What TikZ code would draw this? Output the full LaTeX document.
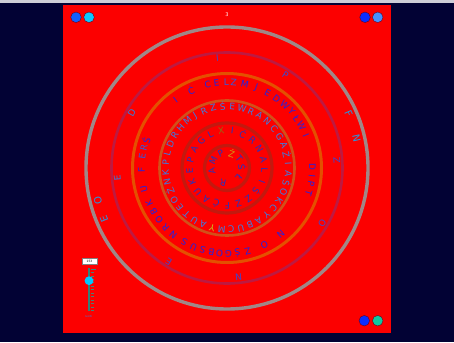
\documentclass[tikz,border=0pt]{standalone}
\usepackage{fontspec}
\setmainfont{DejaVu Sans}
\definecolor{bgnavy}{RGB}{2,2,52}
\definecolor{topgray}{RGB}{205,205,215}
\definecolor{panelred}{RGB}{252,0,0}
\definecolor{ringgray}{RGB}{160,135,135}
\definecolor{ringcrim}{RGB}{190,25,65}
\definecolor{ringor}{RGB}{228,80,0}
\definecolor{ringor2}{RGB}{210,80,25}
\definecolor{ringdk}{RGB}{195,25,15}
\definecolor{cA}{RGB}{40,150,225}
\definecolor{cBa}{RGB}{55,75,210}
\definecolor{cBb}{RGB}{40,130,230}
\definecolor{cC}{RGB}{35,35,225}
\definecolor{cCb}{RGB}{50,90,225}
\definecolor{cD}{RGB}{60,125,225}
\definecolor{cY}{RGB}{200,195,35}
\definecolor{cE}{RGB}{40,50,190}
\definecolor{cX}{RGB}{150,105,20}
\definecolor{cZ}{RGB}{210,150,20}
\definecolor{dotA}{RGB}{20,95,255}
\definecolor{dotB}{RGB}{10,200,255}
\definecolor{dotC}{RGB}{10,45,255}
\definecolor{dotD}{RGB}{70,145,255}
\definecolor{dotE}{RGB}{15,200,160}
\definecolor{trackc}{RGB}{50,130,120}
\definecolor{knobc}{RGB}{0,200,255}
\definecolor{gainc}{RGB}{80,110,200}
\begin{document}
\begin{tikzpicture}[x=1pt,y=1pt,
  ltr/.style={inner sep=0pt, font=\fontsize{9}{9}\selectfont},
  bigltr/.style={inner sep=0pt, font=\fontsize{10}{10}\selectfont},
  dot/.style={circle, inner sep=0pt, minimum size=10.6pt, draw=bgnavy!60!red, line width=0.4pt},
  ring/.style={line width=3pt}]
\useasboundingbox (0,0) rectangle (454,342);
\fill[bgnavy] (0,0) rectangle (454,342);
\fill[topgray] (0,339.4) rectangle (454,342);
\fill[panelred] (63,9) rectangle (391,337);
% title
\node[text=white, font=\fontsize{5}{5}\selectfont, inner sep=0pt] (title) at (227,327) {3};
% corner dots
\node[dot, fill=dotA] (tl1) at (76,324.7) {};
\node[dot, fill=dotB] (tl2) at (89,324.7) {};
\node[dot, fill=dotC] (tr1) at (365,324.7) {};
\node[dot, fill=dotD] (tr2) at (377.7,324.7) {};
\node[dot, fill=dotC] (br1) at (364.3,21.3) {};
\node[dot, fill=dotE] (br2) at (377.7,21.3) {};
% slider
\node[draw=gray, fill=white, line width=0.4pt, minimum width=15.5pt, minimum height=5.6pt, inner sep=0pt, font=\fontsize{3}{3}\selectfont] (valbox) at (89.5,80.9) {153};
\coordinate (trtop) at (89,74);
\coordinate (trbot) at (89,30.5);
\draw[trackc, line width=1.6pt] (trtop) -- (trbot);
\foreach \k in {0,...,12} {
  \pgfmathsetmacro\yy{73-3.45*\k}
  \ifnum\k=0 \draw[trackc!80!gray, line width=0.6pt] (91.2,\yy) -- (95.5,\yy);
  \else \draw[trackc!80!gray, line width=0.6pt] (91.2,\yy) -- (94.3,\yy); \fi
}
\node[circle, fill=knobc, inner sep=0pt, minimum size=8.8pt] (knob) at (89,61.3) {};
\node[text=gainc, font=\fontsize{2.6}{2.6}\selectfont, inner sep=0pt] (gain) at (88.5,25.3) {GAIN};
\begin{scope}[shift={(227,174)}]
  \draw[ringgray, ring, line width=3.4pt] (0,0) circle (141);
  \draw[ringcrim, ring, line width=2.6pt] (0,0) circle (115.5);
  \draw[ringor, ring] (0,0) circle (94.5);
  \draw[ringor2, ring, line width=2.6pt] (0,0) circle (67.5);
  \draw[ringdk, ring, line width=3.2pt] (0,0) circle (45);
  \draw[ringdk, ring, line width=3.2pt] (0,0) circle (22.5);
  % ring A
  \foreach \a/\l [count=\i] in {24/F,13/N,194/O,202.5/E}
    \node[bigltr, text=cA, rotate=\a-90] (ra-\i) at (\a:133) {\l};
  % ring B
  \foreach \a/\l/\c [count=\i] in {95/I/cBa,58/P/cBa,4/Z/cBa,-30/O/cBa,-84/N/cBa,-122/E/cBa,185/E/cBb,150/D/cBb}
    \node[ltr, text=\c, rotate=\a-90] (rb-\i) at (\a:110) {\l};
  % ring C
  \foreach \a/\l/\c [count=\i] in {127/I/cC,115/Ć/cC,103/C/cC,97/E/cC,90.5/L/cCb,85.5/Z/cCb,78/M/cC,70/J/cC,61.5/E/cC,54.5/D/cC,47.5/W/cC,41/Y/cC,35.5/Ł/cC,29.5/W/cC,22.5/I/cC,0.5/D/cC,-5.5/I/cC,-10.5/P/cC,-17/T/cC,-51/N/cC,-64/O/cC,-76/Z/cC,-83/Ś/cC,-89/G/cC,-95/O/cC,-100.5/B/cC,-106.5/S/cC,-113/U/cC,-120/S/cC,-129/N/cC,-136/R/cC,-142.5/O/cC,-149/B/cC,-155.5/K/cC,-166/U/cC,-179/F/cC,172/E/cCb,166.5/R/cCb,161/Ś/cC}
    \node[ltr, text=\c, rotate=\a-90] (rc-\i) at (\a:85.5) {\l};
  % ring D
  \foreach \l/\c [count=\i from 0] in {L/cD,D/cD,R/cD,H/cD,M/cD,J/cD,R/cD,Z/cD,Ś/cD,E/cD,W/cD,R/cD,A/cD,N/cD,C/cD,G/cD,A/cD,Ź/cD,I/cD,A/cD,Ś/cD,O/cD,K/cD,C/cD,Y/cD,A/cD,B/cD,U/cD,C/cD,M/cD,Y/cY,A/cD,U/cD,T/cD,E/cD,O/cD,Ź/cD,N/cD,K/cD,P/cD} {
    \pgfmathsetmacro\a{166-9*\i}
    \node[ltr, text=\c, rotate=\a-90] (rd-\i) at (\a:61.5) {\l};
  }
  % ring E
  \foreach \l/\c [count=\i from 0] in {X/cX,I/cE,Ć/cE,R/cE,N/cE,A/cE,L/cE,I/cE,Ś/cE,Z/cE,Z/cE,F/cE,Ć/cE,A/cE,U/cE,K/cE,E/cE,P/cE,A/cE,G/cE,L/cE} {
    \pgfmathsetmacro\a{99-17.1428*\i}
    \node[ltr, text=\c, rotate=\a-90] (re-\i) at (\a:37.5) {\l};
  }
  % inner ring
  \foreach \a/\l/\c [count=\i] in {72/Ź/cZ,38/T/cE,3/Ś/cE,-40/Ł/cE,-105/R/cE,190/A/cE,152/M/cE,114/P/cE}
    \node[ltr, text=\c, rotate=\a-90] (rf-\i) at (\a:15.5) {\l};
\end{scope}
\end{tikzpicture}
\end{document}
